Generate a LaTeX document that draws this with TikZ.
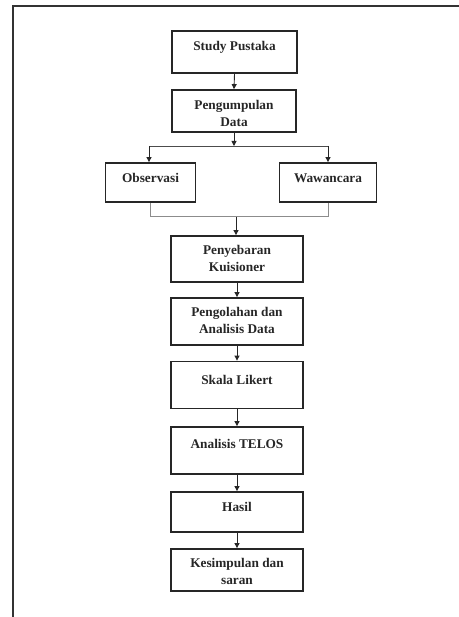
\documentclass[tikz,border=0pt]{standalone}
\usepackage{fontspec}
\setmainfont{Liberation Serif}
\usetikzlibrary{arrows.meta}
\begin{document}
\begin{tikzpicture}[x=1pt,y=-1pt,
  box/.style={draw=black!85, line width=1.8pt, inner sep=0pt},
  txt/.style={font=\fontsize{13.3}{17}\selectfont\bfseries, text=black!85, align=center, inner sep=0pt},
  arr/.style={draw=black!85, line width=0.9pt, -{Triangle[length=5pt,width=5pt]}},
  gline/.style={draw=black!45, line width=1pt}]
\useasboundingbox (0,0) rectangle (458,617);
\draw[black!80, line width=1.8pt] (13,617) -- (13,6) -- (460,6);
% boxes
\node[box, minimum width=125pt, minimum height=42pt] (sp) at (234.5,52) {};
\node[box, minimum width=124pt, minimum height=42pt] (pd) at (234,111) {};
\node[box, minimum width=90pt, minimum height=39pt] (ob) at (150.5,182.5) {};
\node[box, minimum width=97pt, minimum height=39pt] (ww) at (328,182.5) {};
\node[box, minimum width=132pt, minimum height=46pt] (pk) at (237,259) {};
\node[box, minimum width=132pt, minimum height=47pt] (pa) at (237,321.5) {};
\node[box, minimum width=132pt, minimum height=47pt] (sl) at (237,385) {};
\node[box, minimum width=132pt, minimum height=47pt] (at) at (237,450.5) {};
\node[box, minimum width=132pt, minimum height=40pt] (hs) at (237,512) {};
\node[box, minimum width=132pt, minimum height=42pt] (ks) at (237,570) {};
% texts
\node[txt] (spt) at (234.5,47) {Study Pustaka};
\node[txt] (pdt) at (234,113.5) {Pengumpulan\\Data};
\node[txt] (obt) at (150.5,178) {Observasi};
\node[txt] (wwt) at (328,178) {Wawancara};
\node[txt] (pkt) at (237,258) {Penyebaran\\Kuisioner};
\node[txt] (pat) at (237,320.5) {Pengolahan dan\\Analisis Data};
\node[txt] (slt) at (237,380) {Skala Likert};
\node[txt] (att) at (237,444) {Analisis TELOS};
\node[txt] (hst) at (237,506.5) {Hasil};
\node[txt] (kst) at (237,571) {Kesimpulan dan\\saran};
% connectors
\coordinate (j1) at (234,146);
\coordinate (j1l) at (149,146);
\coordinate (j1r) at (328,146);
\coordinate (j2) at (236,217);
\coordinate (j2l) at (150,217);
\coordinate (j2r) at (328,217);
\draw[arr] (sp.south) -- (pd.north);
\draw[arr] (pd.south) -- (j1);
\draw[draw=black!70, line width=0.9pt] (j1l) -- (j1r);
\draw[arr] (j1l) -- (j1l |- ob.north);
\draw[arr] (j1r) -- (j1r |- ww.north);
\draw[gline] (j2l |- ob.south) -- (j2l) -- (j2r) -- (j2r |- ww.south);
\draw[arr] (j2) -- (j2 |- pk.north);
\draw[arr] (pk.south) -- (pa.north);
\draw[arr] (pa.south) -- (sl.north);
\draw[arr] (sl.south) -- (at.north);
\draw[arr] (at.south) -- (hs.north);
\draw[arr] (hs.south) -- (ks.north);
\end{tikzpicture}
\end{document}
